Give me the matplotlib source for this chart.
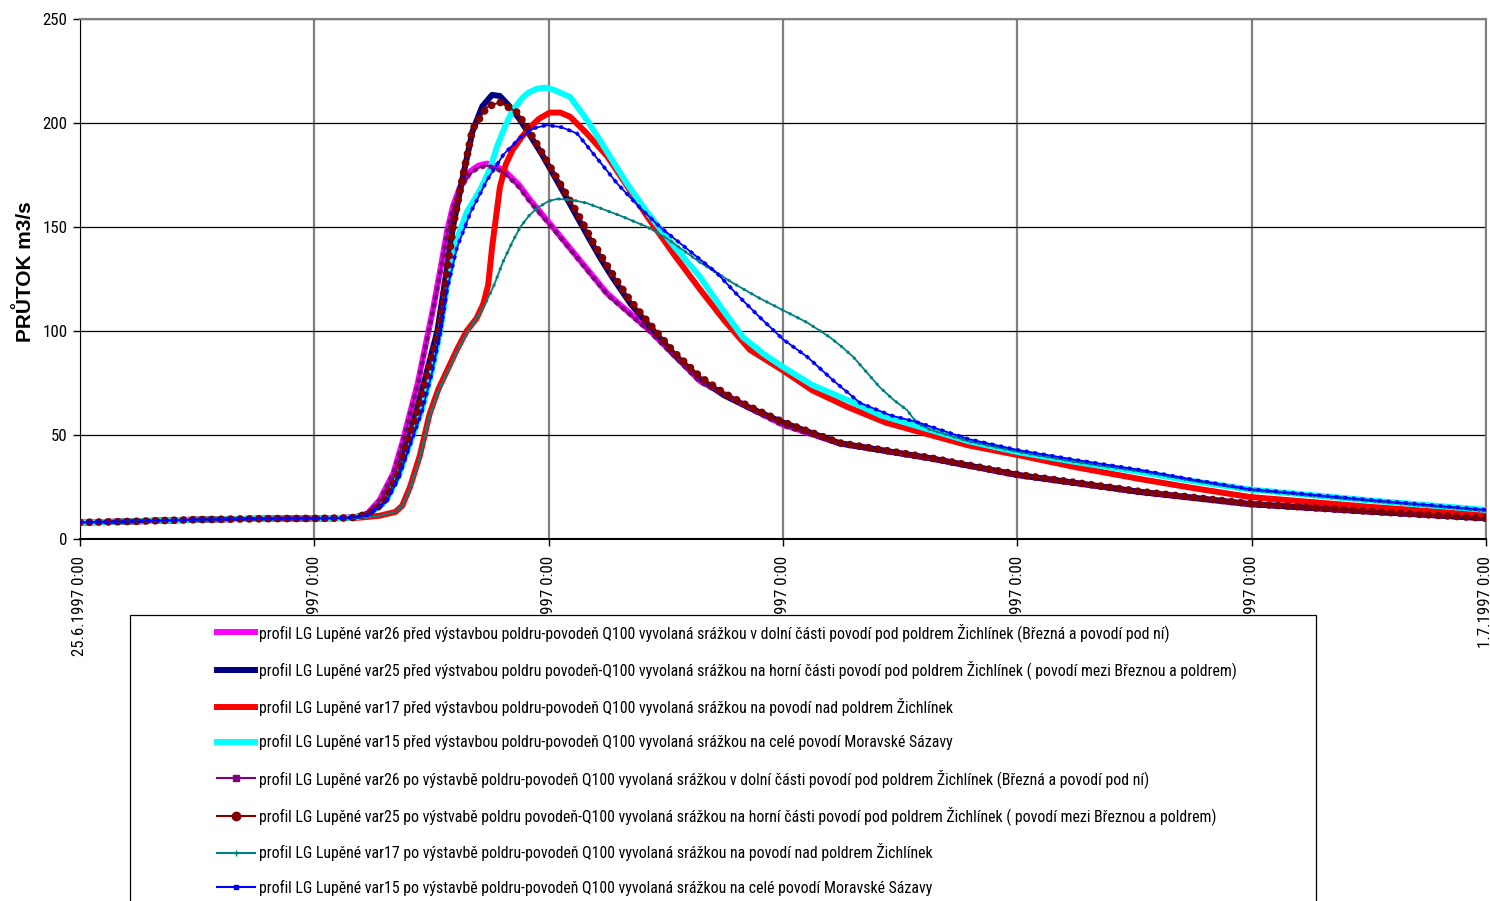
import matplotlib
matplotlib.use("Agg")
import matplotlib.pyplot as plt
from matplotlib import font_manager
from matplotlib.font_manager import FontProperties
from matplotlib.lines import Line2D
from matplotlib.patches import Rectangle

# úzké písmo (Arial Narrow) - vezmi první dostupné
_names = {f.name for f in font_manager.fontManager.ttflist}
NARROW = FontProperties(family="Liberation Sans")
for cand in ["Liberation Sans Narrow", "Arial Narrow", "Roboto Condensed", "Open Sans Condensed"]:
    if cand in _names:
        NARROW = FontProperties(family=cand)
        break
else:
    if any(f.name == "DejaVu Sans" and f.stretch == "condensed" for f in font_manager.fontManager.ttflist):
        NARROW = FontProperties(family="DejaVu Sans", stretch="condensed")

# časy v hodinách od 25.6.1997 0:00, průtok v m3/s
base_h = [0, 4, 8, 12, 16, 20, 24, 27]
base_q = [8.0, 8.3, 8.8, 9.3, 9.6, 9.8, 9.9, 10.1]

# var26 před
h26p = [28.7, 29.5, 30.7, 32.1, 33.0, 33.8, 34.6, 35.5, 36.2, 37.0, 37.6, 38.2, 38.9, 39.9, 40.8,
        41.7, 42.7, 43.7, 45.0, 46.1, 48.4, 51.2, 54.0, 58.4, 63.5, 68.6, 72.0, 77.8, 87.1, 96.0,
        108.6, 119.8, 132.0, 144.0]
q26p = [10.8, 12.5, 18.8, 31.7, 46, 60.6, 75, 95.7, 111.5, 132, 148, 160, 169, 176.5, 179.5,
        180.5, 179, 176, 170, 163, 150, 134, 118, 100, 76, 63, 55, 46, 38.8, 30.8,
        22.6, 16.8, 13.2, 10.0]
# var25 před
h25p = [28.0, 29.5, 31.0, 32.5, 33.5, 34.5, 35.5, 36.6, 37.2, 38.2, 39.2, 40.2, 41.2, 42.2, 43.0,
        44.0, 45.0, 46.1, 47.3, 48.4, 49.6, 50.9, 52.2, 53.3, 54.5, 56.4, 58.4, 60.8, 63.5, 66.0,
        68.6, 72.0, 77.8, 87.1, 96.0, 108.6, 119.8, 132.0, 144.0]
q25p = [10.3, 12, 17, 30, 46, 62, 80, 100, 118, 150, 174, 196, 208, 213.5, 213,
        208, 202, 194, 185, 176, 166, 155, 144, 135, 126, 113, 102, 89, 77, 69,
        63, 56, 46, 38.8, 30.8, 22.6, 16.8, 13.2, 10.0]
# var17 před
h17p = [28.0, 29.0, 30.7, 32.3, 33.0, 33.8, 34.8, 35.8, 36.7, 37.6, 38.6, 39.6, 40.6, 41.3, 41.8,
        42.2, 43.0, 43.6, 44.3, 45.2, 46.1, 47.0, 48.1, 49.2, 50.2, 51.9, 54.0, 56.0, 58.1, 60.8,
        63.5, 66.0, 68.6, 72.0, 75.0, 78.6, 82.5, 87.1, 91.0, 96.0, 102.0, 108.6, 114.0, 119.8,
        132.0, 144.0]
q17p = [10.1, 10.4, 11.2, 13, 16, 25, 40, 60, 72, 81, 91, 100, 106, 113, 122,
        140, 169, 180, 187, 193, 198, 202, 205, 205, 203, 195, 184, 170, 155, 137,
        120, 105, 91, 81, 71.5, 63.5, 56, 50, 45, 40.4, 34.5, 28.8, 24.5, 20.2,
        15.5, 11.5]
# var15 před
h15p = [28.0, 29.5, 31.4, 32.6, 33.8, 35.0, 36.0, 36.9, 37.6, 38.6, 39.6, 41.0, 42.0, 42.7, 43.5,
        44.3, 45.3, 45.9, 46.8, 47.6, 48.5, 50.2, 52.0, 54.0, 56.0, 58.1, 60.8, 63.5, 65.7, 67.9,
        70.0, 72.0, 75.0, 78.6, 82.0, 87.1, 91.0, 96.0, 102.0, 108.6, 114.0, 119.8, 132.0, 144.0]
q15p = [10.3, 11.5, 18.8, 30, 46, 62, 80, 100, 122, 144, 157, 168, 178, 188.5, 198,
        206, 212, 214.5, 216.5, 217, 216, 212.5, 201, 186, 171, 157, 141, 126, 111, 97,
        89, 82.7, 74, 66.8, 59.5, 52.4, 47, 41.8, 37, 32.2, 27.8, 23.8, 18.6, 14.0]
# var26 po
h26o = h26p
q26o = [10.8, 12.5, 18.6, 31.5, 45.5, 60, 74.5, 95, 111, 131, 147, 159, 168, 175.5, 178.5,
        179.5, 178, 175, 169, 162, 149.5, 133.5, 117.5, 99.5, 75.5, 62.5, 54.5, 45.8, 38.6, 30.6,
        22.5, 16.7, 13.1, 9.9]
# var25 po
h25o = [28.0, 29.5, 31.0, 32.5, 33.5, 34.6, 35.5, 36.7, 37.2, 38.2, 39.2, 40.2, 41.7, 43.0, 44.8,
        46.4, 48.4, 50.9, 52.5, 54.3, 56.3, 58.4, 60.8, 63.5, 66.0, 68.6, 72.0, 77.8, 87.1, 96.0,
        108.6, 119.8, 132.0, 144.0]
q25o = [10.3, 12, 17, 30, 46, 62, 78, 99, 115, 150, 174, 197, 207.7, 210, 205,
        193, 177, 157, 143, 129, 115, 103, 90, 78, 70, 63.5, 56.2, 46.2, 39, 31,
        22.8, 17, 13.3, 10.0]
# var17 po
h17o = [28.0, 29.0, 30.7, 32.3, 33.0, 33.8, 34.8, 35.8, 36.7, 37.6, 38.6, 39.6, 40.6, 41.5, 42.4,
        43.3, 44.3, 45.1, 46.0, 46.8, 48.0, 48.9, 50.4, 51.9, 53.6, 55.3, 58.1, 60.1, 63.5, 66.9,
        69.5, 72.0, 74.5, 76.8, 78.0, 79.2, 80.6, 81.9, 83.3, 84.7, 85.7, 87.1, 91.0, 96.0, 102.0,
        108.6, 114.0, 119.8, 132.0, 144.0]
q17o = [10.1, 10.4, 11.2, 13, 16, 24, 39, 59, 71, 80, 90, 99, 106, 113, 122,
        133, 143, 150, 155.5, 159, 162.5, 163.5, 163, 161.5, 158.5, 155.5, 150, 144.5, 133, 123,
        116, 110, 104, 97, 92.5, 87.5, 80, 73, 67, 62, 55.8, 52.5, 47, 42, 37,
        32.5, 28, 23.5, 18.3, 13.5]
# var15 po
h15o = [28.0, 29.5, 31.4, 32.6, 33.8, 35.0, 36.0, 36.9, 37.6, 38.6, 40.0, 41.7, 43.4, 45.1, 46.5,
        47.8, 49.3, 50.9, 53.3, 55.0, 57.2, 59.4, 62.3, 65.2, 67.4, 69.6, 72.0, 74.5, 77.2, 79.9,
        83.0, 86.0, 91.0, 96.0, 102.0, 108.6, 114.0, 119.8, 132.0, 144.0]
q15o = [10.3, 11.5, 18, 29, 45, 61, 79, 99, 120, 140, 157, 172.6, 185, 193, 197.5,
        199, 198, 195, 181, 171, 160, 150, 139, 128, 117, 106.7, 96, 87.5, 76, 65.4,
        59.5, 55.8, 48, 42.8, 38, 33.2, 28.5, 24.0, 18.8, 14.0]

day_ticks = [0, 24, 48, 72, 96, 120, 144]
day_labels = ["25.6.1997 0:00", "26.6.1997 0:00", "27.6.1997 0:00", "28.6.1997 0:00",
              "29.6.1997 0:00", "30.6.1997 0:00", "1.7.1997 0:00"]

labels = [
    "profil LG Lupěné var26 před výstavbou poldru-povodeň Q100 vyvolaná srážkou v dolní části povodí pod poldrem Žichlínek (Březná a povodí pod ní)",
    "profil LG Lupěné var25 před výstvabou poldru povodeň-Q100 vyvolaná srážkou na horní části povodí pod poldrem Žichlínek ( povodí mezi Březnou a poldrem)",
    "profil LG Lupěné var17 před výstavbou poldru-povodeň Q100 vyvolaná srážkou na povodí nad poldrem Žichlínek",
    "profil LG Lupěné var15 před výstavbou poldru-povodeň Q100 vyvolaná srážkou na celé povodí Moravské Sázavy",
    "profil LG Lupěné var26 po výstavbě poldru-povodeň Q100 vyvolaná srážkou v dolní části povodí pod poldrem Žichlínek (Březná a povodí pod ní)",
    "profil LG Lupěné var25 po výstvabě poldru povodeň-Q100 vyvolaná srážkou na horní části povodí pod poldrem Žichlínek ( povodí mezi Březnou a poldrem)",
    "profil LG Lupěné var17 po výstavbě poldru-povodeň Q100 vyvolaná srážkou na povodí nad poldrem Žichlínek",
    "profil LG Lupěné var15 po výstavbě poldru-povodeň Q100 vyvolaná srážkou na celé povodí Moravské Sázavy",
]

fig = plt.figure(figsize=(14.9, 9.01), dpi=100)
renderer = fig.canvas.get_renderer()


def fit_size(text, target_px, base=10.0):
    # velikost písma tak, aby text měl zhruba šířku jako v originále
    fp = NARROW.copy()
    fp.set_size(base)
    t = fig.text(0, 0, text, fontproperties=fp)
    w = t.get_window_extent(renderer).width
    t.remove()
    return base * target_px / w


tick_size = fit_size("25.6.1997 0:00", 99)
leg_size = fit_size(labels[0], 907)

ax = fig.add_axes([80 / 1490, 1 - 539 / 901, 1406 / 1490, 520 / 901])

# mřížka
ax.set_axisbelow(True)
ax.yaxis.grid(True, color="black", lw=0.9)
ax.xaxis.grid(True, color="#808080", lw=1.6)

# před výstavbou - silné čáry
thick = [(h26p, q26p, "#FF00FF"), (h25p, q25p, "#000080"),
         (h17p, q17p, "#FF0000"), (h15p, q15p, "#00FFFF")]
for h, q, c in thick:
    ax.plot(base_h + h, base_q + q, color=c, lw=4.3, solid_capstyle="round",
            solid_joinstyle="round", zorder=3)

# po výstavbě - tenké čáry se značkami
thin = [(h26o, q26o, "#800080", 3.2, 1.9, "projecting"),
        (h25o, q25o, "#800000", 5.6, 1.2, "round"),
        (h17o, q17o, "#008080", 2.4, 2.6, "round"),
        (h15o, q15o, "#0000FF", 2.6, 2.4, "projecting")]
for h, q, c, ms, gap, cap in thin:
    x = base_h + h
    y = base_q + q
    ax.plot(x, y, color=c, lw=1.3, zorder=4)
    ax.plot(x, y, color=c, lw=ms, linestyle=(0, (0.01, gap)), dash_capstyle=cap, zorder=4)

ax.set_xlim(0, 144)
ax.set_ylim(0, 250)
ax.set_yticks([0, 50, 100, 150, 200, 250])
ax.set_xticks(day_ticks)
ax.set_xticklabels(day_labels, rotation=90)
for t in ax.get_xticklabels() + ax.get_yticklabels():
    t.set_fontproperties(NARROW)
    t.set_fontsize(tick_size)
ax.tick_params(axis="both", direction="out", length=5, width=1, color="black")
ax.tick_params(axis="x", pad=7)
ax.tick_params(axis="y", pad=4)

for s in ["top", "right"]:
    ax.spines[s].set_color("#808080")
    ax.spines[s].set_linewidth(1.5)
ax.spines["left"].set_color("black")
ax.spines["bottom"].set_color("black")
ax.spines["bottom"].set_linewidth(1.5)

ax.set_ylabel("PRŮTOK m3/s", fontsize=15, fontweight="bold", family="Liberation Sans")
ax.yaxis.set_label_coords(-0.032, 0.515)

# rámeček legendy přes popisky osy x
fig.add_artist(Rectangle((130 / 1490, -0.02), (1316 - 130) / 1490, (901 - 615) / 901 + 0.02,
                         transform=fig.transFigure, facecolor="white", edgecolor="black",
                         lw=0.9, zorder=2))

handles = [
    Line2D([], [], color="#FF00FF", lw=4.3),
    Line2D([], [], color="#000080", lw=4.3),
    Line2D([], [], color="#FF0000", lw=4.3),
    Line2D([], [], color="#00FFFF", lw=4.3),
    Line2D([], [], color="#800080", lw=1.5, marker="s", markersize=4),
    Line2D([], [], color="#800000", lw=1.5, marker="o", markersize=6),
    Line2D([], [], color="#008080", lw=1.5, marker="+", markersize=4),
    Line2D([], [], color="#0000FF", lw=1.5, marker="s", markersize=3),
]
leg_fp = NARROW.copy()
leg_fp.set_size(leg_size)
fs_px = leg_size * 100 / 72
leg = fig.legend(handles, labels, loc="upper left", bbox_to_anchor=(217 / 1490, 1 - 623 / 901),
                 frameon=False, numpoints=1, handlelength=38 / fs_px, handletextpad=4 / fs_px,
                 labelspacing=(36.4 - 1.07 * fs_px - 0.95) / fs_px, borderpad=0, borderaxespad=0,
                 prop=leg_fp)
leg.set_zorder(5)

fig.savefig("out.png", dpi=100)
